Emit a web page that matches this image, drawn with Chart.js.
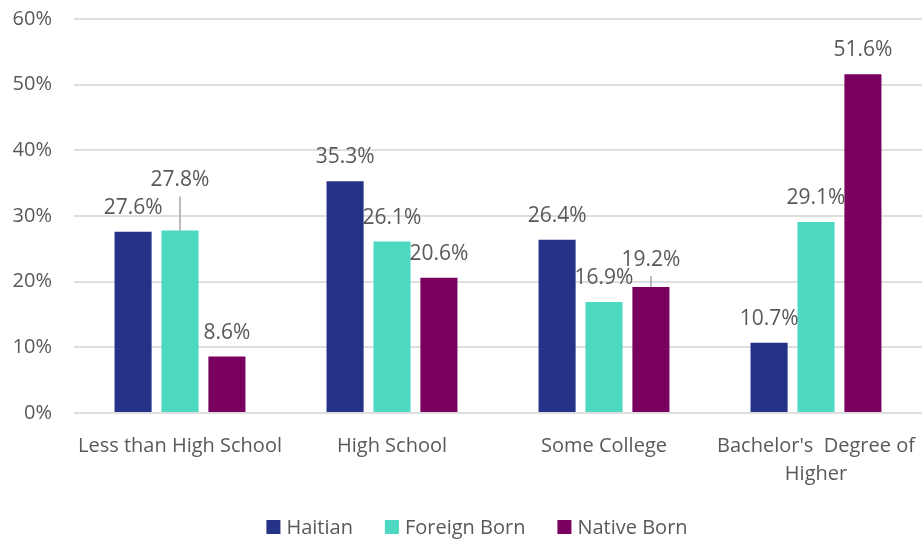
<!DOCTYPE html>
<html>
<head>
<meta charset="utf-8">
<script src="https://cdn.jsdelivr.net/npm/chart.js@4/dist/chart.umd.min.js"></script>
<style>
  html, body { margin: 0; padding: 0; background: #ffffff; }
  #wrap { width: 922px; height: 539px; position: relative; }
</style>
</head>
<body>
<div id="wrap"><canvas id="c" width="922" height="539"></canvas></div>
<script>
const categories = ["Less than High School", "High School", "Some College", ["Bachelor's  Degree of", "Higher"]];
const seriesNames = ["Haitian", "Foreign Born", "Native Born"];
const haitian = [27.6, 35.3, 26.4, 10.7];
const foreignBorn = [27.8, 26.1, 16.9, 29.1];
const nativeBorn = [8.6, 20.6, 19.2, 51.6];
const yTicks = [0, 10, 20, 30, 40, 50, 60];
const colors = ["#243288", "#4dd8c2", "#7a005f"];

const TEXT = "#595959";
const FONT = "'Open Sans', 'Noto Sans', sans-serif";

const dataLabelPlugin = {
  id: 'dataLabels',
  afterDatasetsDraw(chart, args, opts) {
    const ctx = chart.ctx;
    ctx.save();
    ctx.font = opts.font;
    ctx.fillStyle = opts.color;
    ctx.textAlign = 'center';
    ctx.textBaseline = 'middle';
    chart.data.datasets.forEach((ds, di) => {
      const meta = chart.getDatasetMeta(di);
      meta.data.forEach((bar, j) => {
        const extra = (opts.shift[di + ',' + j] || 0);
        const y = bar.y - opts.offset + extra;
        ctx.fillText(ds.data[j].toFixed(1) + '%', bar.x, y);
        if (extra !== 0) {
          ctx.strokeStyle = opts.leaderColor;
          ctx.lineWidth = 1.5;
          ctx.beginPath();
          ctx.moveTo(bar.x, y + 16);
          ctx.lineTo(bar.x, bar.y);
          ctx.stroke();
        }
      });
    });
    ctx.restore();
  }
};

const customLegend = {
  id: 'customLegend',
  afterDraw(chart, args, opts) {
    const ctx = chart.ctx;
    ctx.save();
    ctx.font = opts.font;
    ctx.textBaseline = 'middle';
    ctx.textAlign = 'left';
    const items = chart.data.datasets.map(d => ({ text: d.label, color: d.backgroundColor, w: ctx.measureText(d.label).width }));
    const box = opts.box, gap = opts.gap, space = opts.space;
    let total = 0;
    items.forEach((it, i) => { total += box + gap + it.w + (i < items.length - 1 ? space : 0); });
    let x = opts.centerX - total / 2;
    const y = opts.y;
    items.forEach(it => {
      ctx.fillStyle = it.color;
      ctx.fillRect(x, y - box / 2, box, box);
      ctx.fillStyle = opts.color;
      ctx.fillText(it.text, x + box + gap, y + 1);
      x += box + gap + it.w + space;
    });
    ctx.restore();
  }
};

const seriesData = [haitian, foreignBorn, nativeBorn];

new Chart(document.getElementById('c'), {
  type: 'bar',
  data: {
    labels: categories,
    datasets: seriesNames.map((name, i) => ({
      label: name,
      data: seriesData[i],
      backgroundColor: colors[i],
      borderWidth: 0,
      categoryPercentage: 0.664,
      barPercentage: 0.79
    }))
  },
  options: {
    responsive: false,
    animation: false,
    devicePixelRatio: 1,
    layout: { padding: { left: 0, top: 19, right: 0, bottom: 0 } },
    plugins: {
      legend: { display: false },
      tooltip: { enabled: false },
      dataLabels: {
        font: "21px " + FONT,
        color: TEXT,
        offset: 24,
        leaderColor: "#a6a6a6",
        shift: { '1,0': -26, '2,2': -3 }
      },
      customLegend: {
        font: "20px " + FONT,
        color: TEXT,
        box: 14, gap: 6, space: 32,
        centerX: 477, y: 527
      }
    },
    scales: {
      x: {
        grid: { display: false, drawTicks: false },
        border: { display: false },
        ticks: {
          color: TEXT,
          font: { family: FONT, size: 20, lineHeight: 1.4 },
          padding: 19,
          maxRotation: 0,
          autoSkip: false
        },
        afterFit(scale) {
          scale.height = 126;
          scale.paddingLeft = 0;
          scale.paddingRight = 0;
        }
      },
      y: {
        min: 0,
        max: 60,
        afterBuildTicks(scale) { scale.ticks = yTicks.map(v => ({ value: v })); },
        grid: { color: "#dedede", lineWidth: 2, drawTicks: false },
        border: { display: false },
        ticks: {
          color: TEXT,
          font: { family: FONT, size: 20 },
          padding: 22,
          callback: v => v + '%'
        },
        afterFit(scale) {
          scale.width = 74;
          scale.paddingTop = 0;
          scale.paddingBottom = 0;
        }
      }
    }
  },
  plugins: [dataLabelPlugin, customLegend]
});
</script>
</body>
</html>
